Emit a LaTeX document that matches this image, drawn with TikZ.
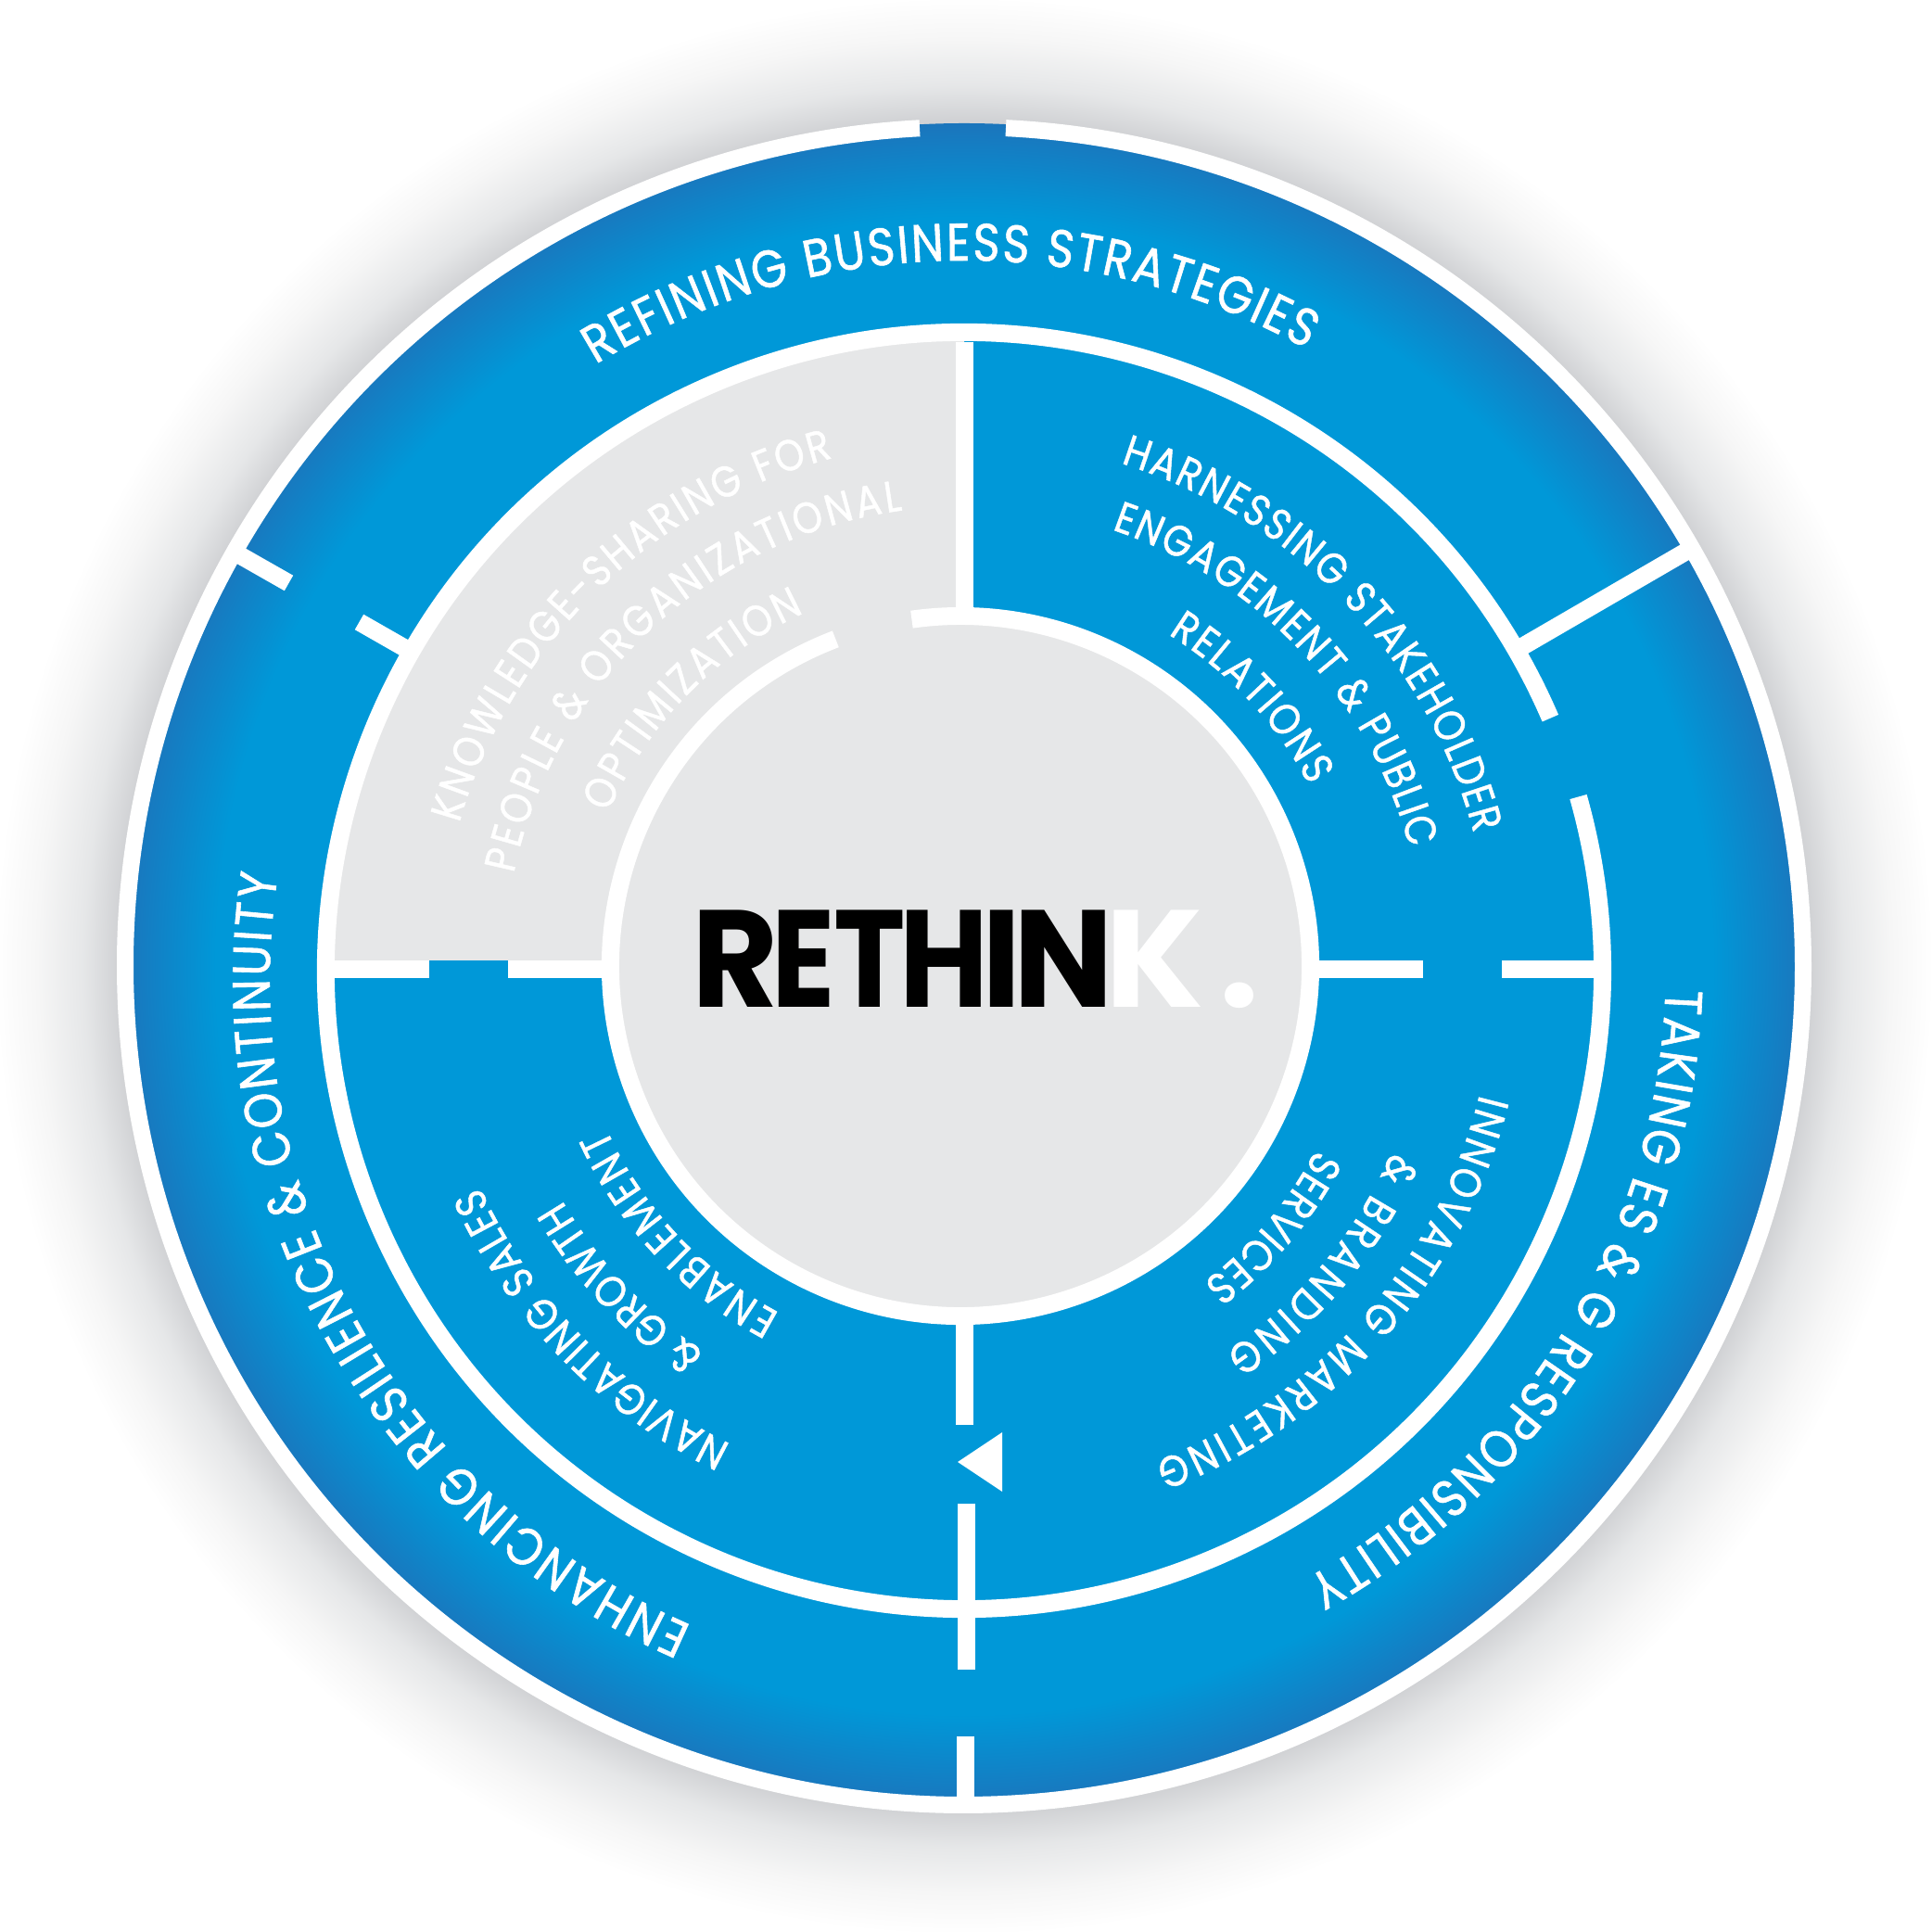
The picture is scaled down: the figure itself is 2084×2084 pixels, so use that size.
\documentclass[tikz,border=0pt]{standalone}
\usepackage{fontspec}
\usetikzlibrary{decorations.text}
\newfontfamily\pop{Poppins}[FakeStretch=0.87,FakeBold=1]
\newfontfamily\titlemid{Poppins}[FakeStretch=0.96]
\newfontfamily\titlecond{Poppins}[FakeStretch=0.88]
\newfontfamily\titlenarrow{Poppins}[FakeStretch=0.85]
\newfontfamily\titlewide{Poppins}[FakeStretch=1.02]
\definecolor{softgray}{RGB}{230,231,232}
\pgfdeclareradialshading{haloshade}{\pgfpoint{0bp}{0bp}}{%
  rgb(0bp)=(0.82,0.825,0.835);rgb(21.157bp)=(0.82,0.825,0.835);rgb(21.99bp)=(0.90,0.905,0.91);rgb(23.15bp)=(0.965,0.965,0.965);rgb(24.19bp)=(1,1,1);rgb(50bp)=(1,1,1)}
\pgfdeclareradialshading{discshade}{\pgfpoint{0bp}{0bp}}{%
  rgb(0bp)=(0,0.596,0.847);rgb(22.2bp)=(0,0.596,0.847);rgb(25bp)=(0.106,0.459,0.737);rgb(50bp)=(0.106,0.459,0.737)}
\tikzset{
  whiteline/.style={draw=white,line width=9.5pt,line cap=butt},
}
\newcommand{\curvetext}[7]{% cx cy r a b text size
  \path[decorate,decoration={text along path,text color=white,text align={fit to path},
    text={|\pop\fontsize{#7}{#7}\selectfont|#6}}]
    ([shift={(#1,#2)}]#4:#3) arc[start angle=#4,end angle=#5,radius=#3];}
\newcommand{\titlechar}[3]{\makebox[#1pt][l]{#2\bfseries\fontsize{74.5}{80}\selectfont #3}}
\begin{document}
\begin{tikzpicture}[x=0.5pt,y=0.5pt]
\useasboundingbox (0,0) rectangle (2084,2084);
\fill[white] (0,0) rectangle (2084,2084);
\begin{scope}
\clip (0,0) rectangle (2084,2084);
\shade[shading=haloshade] (1040,1042) circle (1080);
\end{scope}
\shade[shading=discshade] (1040,1042) circle (909);
% gray quadrant and centre
\begin{scope}
\clip (0,1048) rectangle (1040,2084);
\fill[softgray] (1040,1037) circle (690);
\end{scope}
\fill[softgray] (1036,1042) circle (378);
% rings
\draw[whiteline,line width=9pt] ([shift={(1040,1042)}]93.04:905) arc[start angle=93.04,end angle=447.15,radius=905];
\draw[whiteline] ([shift={(1040,1037)}]23.3:688.5) arc[start angle=23.3,end angle=375.8,radius=688.5];
\draw[whiteline] ([shift={(1036,1042)}]110.9:377.5) arc[start angle=110.9,end angle=458,radius=377.5];
% spokes
\draw[whiteline] (1040.5,1715) -- (1040.5,1420);
\draw[whiteline] (1415,1038.5) -- (1535,1038.5);
\draw[whiteline] (1620,1038.5) -- (1725,1038.5);
\draw[whiteline] (355,1038.5) -- (463,1038.5);
\draw[whiteline] (548,1038.5) -- (655,1038.5);
\draw[whiteline] (1040.5,660) -- (1040.5,547);
\draw[whiteline] (1042,462) -- (1042,283);
\draw[whiteline] (1041.5,211) -- (1041.5,140);
\fill[white] (1033,507) -- (1081,539) -- (1081,475) -- cycle;
\draw[whiteline] (1636,1383) -- (1822,1491);
\draw[whiteline] (250,1490) -- (311.5,1455);
\draw[whiteline] (387.5,1413) -- (440,1383);
% outer texts
\curvetext{1040}{1042}{761}{121.5}{61}{REFINING BUSINESS STRATEGIES}{28.5}
\curvetext{1040}{1042}{757}{-1.9}{-60.8}{TAKING ES {\&} G RESPONSIBILITY}{28.5}
\curvetext{1050}{1026}{759}{246.4}{171.4}{ENHANCING RESILIENCE {\&} CONTINUITY}{28.5}
% top right
\curvetext{1040}{1042}{568}{72.7}{14.6}{HARNESSING STAKEHOLDER}{23.5}
\curvetext{1040}{1042}{497}{71.3}{14.8}{ENGAGEMENT {\&} PUBLIC}{23.5}
\curvetext{1040}{1042}{420}{58.4}{27.6}{RELATIONS}{23.5}
% bottom right
\curvetext{1040}{1042}{573}{-14}{-69}{INNOVATING MARKETING}{23.5}
\curvetext{1040}{1042}{503}{-23.5}{-56}{{\&} BRANDING}{23.5}
\curvetext{1040}{1042}{428}{-27.5}{-53}{SERVICES}{23.5}
% bottom left
\curvetext{1040}{1042}{574}{244}{204.5}{NAVIGATING SALES}{23.5}
\curvetext{1040}{1042}{502}{236}{210.2}{{\&} GROWTH}{23.5}
\curvetext{1040}{1042}{424}{242}{204.4}{ENABLEMENT}{23.5}
% top left
\curvetext{1040}{1042}{566}{164.2}{104.5}{KNOWLEDGE-SHARING FOR}{23.5}
\curvetext{1040}{1042}{496}{168.4}{97.7}{PEOPLE {\&} ORGANIZATIONAL}{23.5}
\curvetext{1040}{1042}{418}{156.7}{114.4}{OPTIMIZATION}{23.5}
% title
\node[anchor=base west,inner sep=0pt] (title) at (746,997) {%
  \titlechar{43}{\titlemid}{R}\titlechar{33.5}{\titlenarrow}{E}\titlechar{35.5}{\titlecond}{T}\titlechar{44.5}{\titlecond}{H}\titlechar{17}{\titlemid}{I}\titlechar{49.5}{\titlemid}{N}\textcolor{white}{\titlechar{61.5}{\titlewide}{K}\titlechar{20}{\titlewide}{.}}};
\end{tikzpicture}
\end{document}
